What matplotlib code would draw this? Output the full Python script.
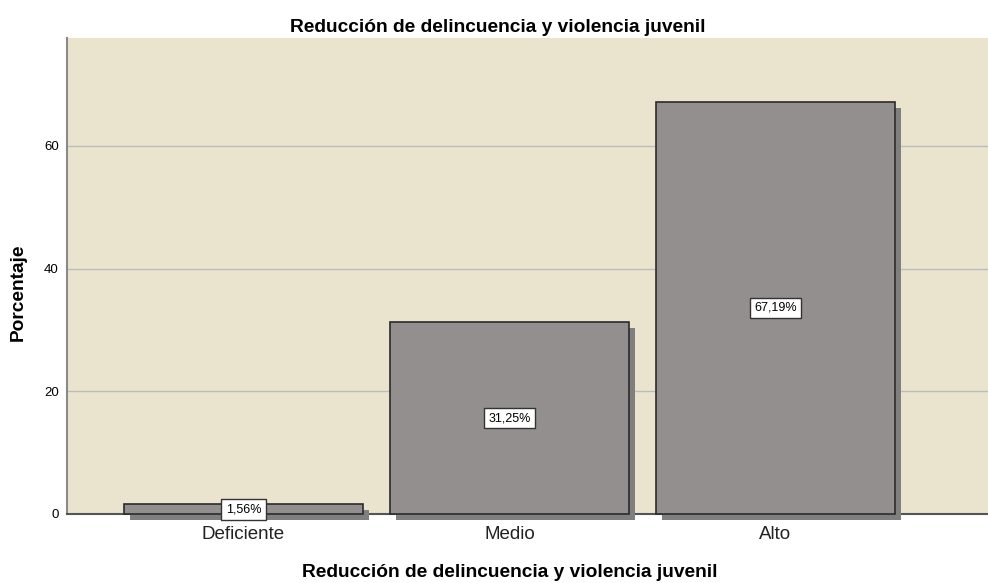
import matplotlib
matplotlib.use("Agg")
from matplotlib import pyplot as plt
import matplotlib.patheffects as pe

plt.rcParams['font.family'] = ['Liberation Sans', 'DejaVu Sans']

categorias = ["Deficiente", "Medio", "Alto"]
porcentajes = [1.5625, 31.25, 67.1875]
etiquetas = ["1,56%", "31,25%", "67,19%"]
yticks = [0, 20, 40, 60]
titulo = "Reducción de delincuencia y violencia juvenil"

fig = plt.figure(figsize=(9.88, 5.83), dpi=100)
ax = fig.add_axes([0.0678, 0.1184, 0.9322, 0.8165])
ax.set_facecolor("#eae4cf")

x = list(range(len(categorias)))
bars = ax.bar(x, porcentajes, width=0.9, color="#938f8e", edgecolor="#2b2b2b",
              linewidth=1.2, zorder=3, clip_on=False)
for b in bars:
    b.set_path_effects([pe.SimplePatchShadow(offset=(4.3, -4.3), shadow_rgbFace="#7f7f7f", alpha=1.0),
                        pe.Normal()])

for xi, v, lab in zip(x, porcentajes, etiquetas):
    ax.text(xi, v / 2, lab, ha="center", va="center", fontsize=9, zorder=5,
            bbox=dict(boxstyle="square,pad=0.35", facecolor="white", edgecolor="#333333", linewidth=1))

ax.set_xlim(-0.6635, 2.799)
ax.set_ylim(0, 77.6)
ax.set_yticks(yticks)
ax.set_xticks(x)
ax.set_xticklabels(categorias, fontsize=13.5, color="#222222")
ax.tick_params(axis="y", length=0, labelsize=9.5, pad=6)
ax.tick_params(axis="x", length=0, pad=9)
ax.yaxis.grid(True, color="#bcbcbc", linewidth=1, zorder=1)
ax.set_axisbelow(True)

for s in ["top", "right"]:
    ax.spines[s].set_visible(False)
ax.spines["left"].set_color("#8a8a8a")
ax.spines["left"].set_linewidth(1.5)
ax.spines["bottom"].set_color("#555555")
ax.spines["bottom"].set_linewidth(1.5)

fig.text(498 / 988, 1 - 32 / 583, titulo, ha="center", va="baseline", fontsize=13.8, fontweight="bold")
fig.text(510 / 988, 1 - 577 / 583, titulo, ha="center", va="baseline", fontsize=13.8, fontweight="bold")
fig.text(18 / 988, 1 - 292 / 583, "Porcentaje", ha="center", va="center", rotation=90,
         fontsize=13.8, fontweight="bold")

fig.savefig("out.png", dpi=100)
